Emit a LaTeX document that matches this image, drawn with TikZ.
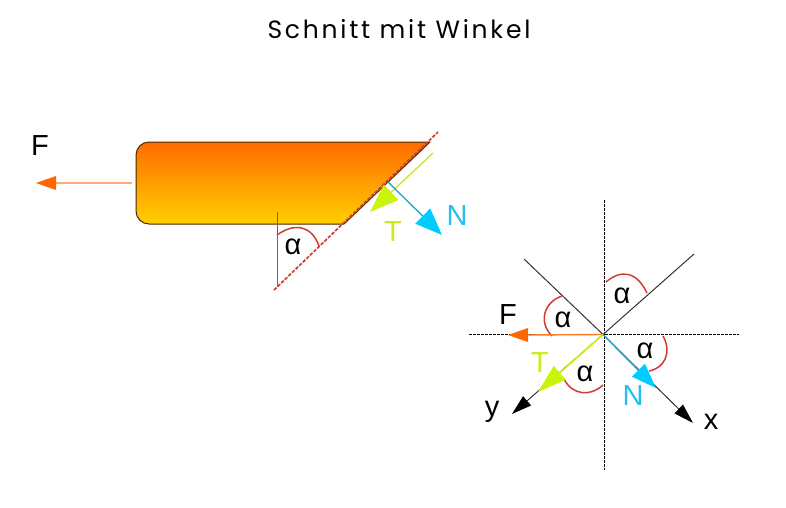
\documentclass[tikz,border=0pt]{standalone}
\usepackage{fontspec}
\setmainfont{Liberation Sans}
\newfontfamily\titlefont[LetterSpace=11]{Poppins}
\usetikzlibrary{arrows.meta}
\definecolor{forceorange}{RGB}{255,102,0}
\definecolor{forcelight}{RGB}{250,170,125}
\definecolor{bodytop}{RGB}{255,108,0}
\definecolor{bodybot}{RGB}{255,208,0}
\definecolor{tlime}{RGB}{200,245,10}
\definecolor{tline}{RGB}{205,230,50}
\definecolor{tlabelc}{RGB}{205,235,20}
\definecolor{nblue}{RGB}{0,204,255}
\definecolor{nline}{RGB}{45,165,205}
\definecolor{nlabelc}{RGB}{40,190,240}
\definecolor{cutred}{RGB}{210,60,55}
\tikzset{
  x=1pt,y=-1pt,
  lbl/.style={font=\fontsize{29}{29}\selectfont,inner sep=0pt,anchor=center},
  arcline/.style={draw=cutred,line width=1.5pt},
  axisdash/.style={draw=black,line width=1pt,dash pattern=on 2.5pt off 1.5pt},
  thinline/.style={draw=black!80,line width=1pt},
  headTa/.style={-{Triangle[length=29pt,width=21pt,color=tlime,fill=tlime]}},
  headNa/.style={-{Triangle[length=27pt,width=21pt,color=nblue,fill=nblue]}},
  headTb/.style={-{Triangle[length=29pt,width=18pt,color=tlime,fill=tlime]}},
  headNb/.style={-{Triangle[length=25pt,width=18pt,color=nblue,fill=nblue]}},
  headK/.style={-{Triangle[length=20pt,width=12pt,color=black,fill=black]}},
}
\begin{document}
\begin{tikzpicture}
\useasboundingbox (0,0) rectangle (786,507);
\node[inner sep=0pt,font=\titlefont\fontsize{25}{25}\selectfont] (title) at (399,29) {Schnitt mit Winkel};
% body
\shadedraw[top color=bodytop,bottom color=bodybot,draw=black!70!orange,line width=1pt]
  (344,224) [rounded corners=13pt] -- (136,224) -- (136,142) [sharp corners] -- (430,142) -- cycle;
% left-hand forces
\coordinate (fa) at (132,183); \coordinate (fb) at (36,183);
\draw[forcelight,line width=1.4pt] (fa) -- (55,183);
\fill[forceorange] (fb) -- (56,176) -- (56,190) -- cycle;
\node[lbl] (flabel) at (40,146) {F};
\coordinate (vtop) at (277,212); \coordinate (vbot) at (277,287);
\draw[cutred,line width=1pt] (vtop) -- (vbot);
\coordinate (ca) at (274,290); \coordinate (cb) at (438,132);
\draw[cutred,line width=1.7pt,dash pattern=on 3.5pt off 1.5pt] (ca) -- (cb);
\draw[arcline] (277,235) .. controls (295,222) and (312,226) .. (319,246);
\node[lbl] (a1) at (293,247) {α};
\coordinate (ta) at (433,153); \coordinate (tb) at (370,212);
\draw[tline,line width=1.4pt,headTa] (ta) -- (tb);
\coordinate (na) at (388,182); \coordinate (nb) at (442,235);
\draw[nline,line width=1.4pt,headNa] (na) -- (nb);
\node[lbl,text=tlabelc] (tlabel) at (393,232) {T};
\node[lbl,text=nlabelc] (nlabel) at (457,216) {N};
% right-hand cross
\coordinate (o) at (603,334.5);
\coordinate (va) at (604,200); \coordinate (vb) at (604,470);
\coordinate (ha) at (469,334); \coordinate (hb) at (739,334);
\draw[axisdash] (va) -- (vb);
\draw[axisdash] (ha) -- (hb);
\coordinate (ur) at (694,254); \coordinate (ul) at (524,259);
\coordinate (xe) at (693,423); \coordinate (ye) at (512,414);
\draw[thinline] (o) -- (ur);
\draw[thinline] (o) -- (ul);
\draw[thinline,headK] (o) -- (xe);
\draw[thinline,headK] (o) -- (ye);
\draw[arcline] (606,282) .. controls (620,270) and (636,270) .. (647,293);
\draw[arcline] (663,336) .. controls (672,352) and (665,368) .. (649,371);
\draw[arcline] (603,385) .. controls (590,397) and (572,395) .. (564,379);
\draw[arcline] (562,296) .. controls (544,302) and (538,322) .. (552,336);
\coordinate (fe) at (508,335);
\draw[forceorange!70!forcelight,line width=1.4pt] (o) -- (525,335);
\fill[forceorange] (fe) -- (528,328) -- (528,342) -- cycle;
\coordinate (te) at (538,392);
\draw[tlime,line width=1.6pt,headTb] (o) -- (te);
\coordinate (ne) at (656,388);
\draw[nline,line width=1.6pt,headNb] (o) -- (ne);
\node[lbl] (a2) at (622,296) {α};
\node[lbl] (a3) at (645,351) {α};
\node[lbl] (a4) at (585,374) {α};
\node[lbl] (a5) at (563,320) {α};
\node[lbl] (f2) at (508,315) {F};
\node[lbl,text=tlabelc] (t2) at (540,363) {T};
\node[lbl,text=nlabelc] (n2) at (633,396) {N};
\node[lbl] (ylab) at (492,412) {y};
\node[lbl] (xlab) at (711,422) {x};
\end{tikzpicture}
\end{document}
